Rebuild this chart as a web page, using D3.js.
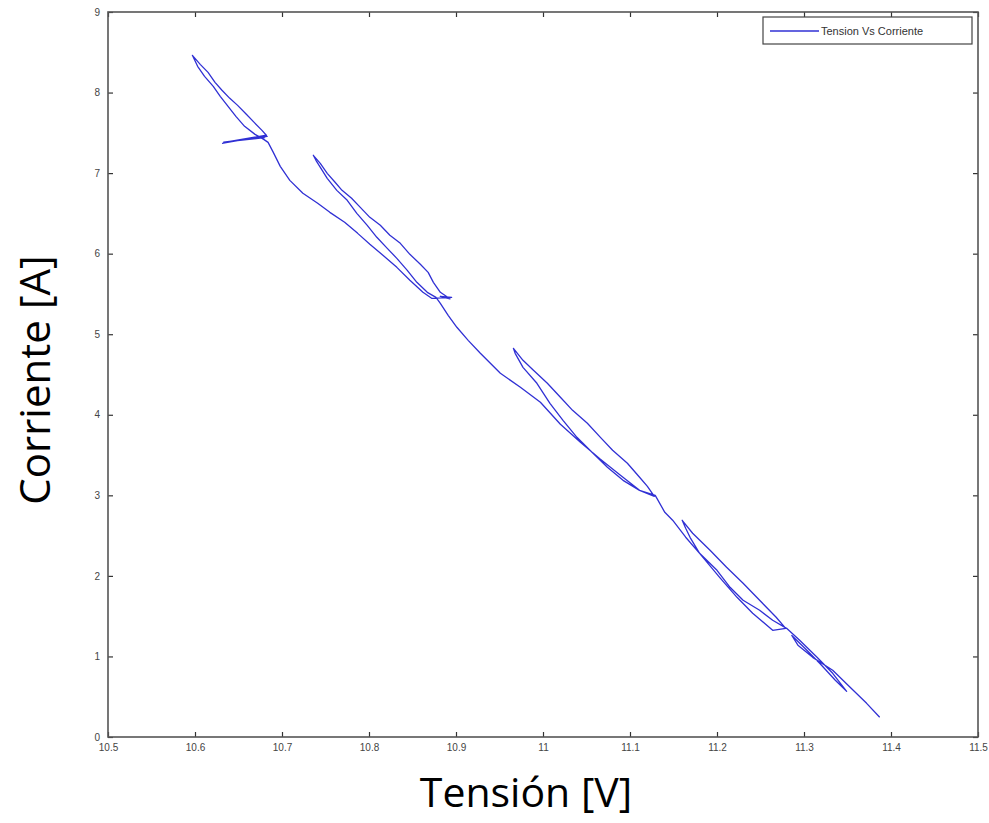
<!DOCTYPE html>
<html>
<head>
<meta charset="utf-8">
<script src="https://cdn.jsdelivr.net/npm/d3@7"></script>
<style>
  body { margin: 0; background: #fff; }
  svg { display: block; }
</style>
</head>
<body>
<div id="graph"></div>
<script>
// tension [V] y corriente [A], en orden de trazo
var tension = [
  10.631, 10.657, 10.683, 10.633, 10.680, 10.640, 10.682,
  10.677, 10.668, 10.659, 10.649, 10.640, 10.631, 10.623, 10.615, 10.606, 10.597,
  10.603, 10.611, 10.621, 10.629, 10.638, 10.647, 10.657, 10.669, 10.679,
  10.684, 10.690, 10.698, 10.709, 10.724, 10.741, 10.755, 10.772, 10.787, 10.801,
  10.816, 10.832, 10.847, 10.862, 10.872,
  10.895, 10.882, 10.893, 10.882,
  10.874, 10.868, 10.859, 10.847, 10.836, 10.824, 10.813, 10.801, 10.790, 10.780,
  10.769, 10.761, 10.752, 10.744, 10.736,
  10.739, 10.752, 10.763, 10.775, 10.786, 10.798, 10.809, 10.821, 10.832, 10.844,
  10.855, 10.867, 10.877,
  10.882, 10.891, 10.901, 10.914, 10.928, 10.951, 10.974, 10.997, 11.020, 11.043,
  11.066, 11.089, 11.111, 11.128,
  11.120, 11.111, 11.097, 11.080, 11.066, 11.051, 11.034, 11.020, 11.005, 10.989,
  10.977, 10.966,
  10.968, 10.977, 10.993, 11.008, 11.023, 11.039, 11.054, 11.074, 11.092, 11.111,
  11.129,
  11.140, 11.149, 11.164, 11.180, 11.203, 11.223, 11.241, 11.264, 11.279,
  11.268, 11.249, 11.230, 11.211, 11.192, 11.172, 11.160,
  11.164, 11.169, 11.180, 11.200, 11.215, 11.230, 11.249, 11.264, 11.280,
  11.295, 11.315, 11.333, 11.349,
  11.336, 11.318, 11.301, 11.286,
  11.293, 11.310, 11.333, 11.353, 11.372, 11.387
];
var corriente = [
  7.370, 7.419, 7.457, 7.385, 7.440, 7.395, 7.470,
  7.531, 7.630, 7.730, 7.841, 7.928, 8.028, 8.127, 8.251, 8.350, 8.462,
  8.326, 8.201, 8.077, 7.953, 7.829, 7.705, 7.581, 7.481, 7.419,
  7.382, 7.258, 7.084, 6.910, 6.749, 6.625, 6.513, 6.389, 6.252, 6.116,
  5.979, 5.830, 5.669, 5.520, 5.446,
  5.458, 5.470, 5.440, 5.520,
  5.644, 5.768, 5.868, 5.992, 6.128, 6.228, 6.352, 6.451, 6.575, 6.687,
  6.786, 6.886, 6.997, 7.121, 7.221,
  7.159, 6.935, 6.786, 6.662, 6.501, 6.352, 6.203, 6.066, 5.942, 5.793,
  5.644, 5.520, 5.458,
  5.384, 5.235, 5.086, 4.924, 4.763, 4.515, 4.341, 4.155, 3.882, 3.658,
  3.447, 3.249, 3.062, 2.988,
  3.112, 3.224, 3.398, 3.559, 3.720, 3.894, 4.055, 4.217, 4.391, 4.552,
  4.676, 4.825,
  4.763, 4.589, 4.391, 4.142, 3.931, 3.720, 3.559, 3.348, 3.186, 3.062,
  3.000,
  2.789, 2.691, 2.480, 2.280, 1.982, 1.734, 1.536, 1.324, 1.349,
  1.486, 1.697, 1.908, 2.107, 2.318, 2.529, 2.690,
  2.591, 2.479, 2.280, 2.069, 1.858, 1.697, 1.573, 1.449, 1.349,
  1.200, 0.989, 0.791, 0.567,
  0.704, 0.915, 1.101, 1.260,
  1.140, 0.989, 0.828, 0.617, 0.418, 0.245
];
var xTicks = [10.5, 10.6, 10.7, 10.8, 10.9, 11, 11.1, 11.2, 11.3, 11.4, 11.5];
var yTicks = [0, 1, 2, 3, 4, 5, 6, 7, 8, 9];
var leyenda = "Tension Vs Corriente";

var chartWidth = 989, chartHeight = 823;
var mLeft = 108, mRight = 978, mTop = 12, mBottom = 737;

var svg = d3.select("#graph").append("svg")
  .attr("width", chartWidth)
  .attr("height", chartHeight);

var xScale = d3.scaleLinear().domain([10.5, 11.5]).range([mLeft, mRight]);
var yScale = d3.scaleLinear().domain([0, 9]).range([mBottom, mTop]);

// ejes estilo matlab, ticks hacia adentro
var xAxis = d3.axisBottom(xScale).tickValues(xTicks).tickSizeInner(-5).tickSizeOuter(0)
  .tickFormat(d3.format("~g")).tickPadding(7);
var yAxis = d3.axisLeft(yScale).tickValues(yTicks).tickSizeInner(-5).tickSizeOuter(0)
  .tickPadding(8);
var xTop = d3.axisTop(xScale).tickValues(xTicks).tickSizeInner(-5).tickSizeOuter(0).tickFormat("");
var yRight = d3.axisRight(yScale).tickValues(yTicks).tickSizeInner(-5).tickSizeOuter(0).tickFormat("");

function estilo(g) {
  g.select(".domain").remove();
  g.selectAll(".tick line").attr("stroke", "#333").attr("stroke-width", 1.2);
  g.selectAll(".tick text").attr("fill", "#444")
    .style("font-family", "'Liberation Sans', Arial, sans-serif").style("font-size", "10px");
}

svg.append("g").attr("transform", "translate(0," + mBottom + ")").call(xAxis).call(estilo);
svg.append("g").attr("transform", "translate(" + mLeft + ",0)").call(yAxis).call(estilo);
svg.append("g").attr("transform", "translate(0," + mTop + ")").call(xTop).call(estilo);
svg.append("g").attr("transform", "translate(" + mRight + ",0)").call(yRight).call(estilo);

svg.append("rect")
  .attr("x", mLeft).attr("y", mTop)
  .attr("width", mRight - mLeft).attr("height", mBottom - mTop)
  .attr("fill", "none").attr("stroke", "#555").attr("stroke-width", 1.6);

// curva tension vs corriente
var linea = d3.line()
  .x(function (d, i) { return xScale(tension[i]); })
  .y(function (d, i) { return yScale(corriente[i]); });

svg.append("path")
  .datum(tension)
  .attr("d", linea)
  .attr("fill", "none")
  .attr("stroke", "#3030d4")
  .attr("stroke-width", 1.3)
  .attr("stroke-linejoin", "round");

// leyenda
var lg = svg.append("g").attr("transform", "translate(763,17)");
lg.append("rect").attr("width", 209).attr("height", 27)
  .attr("fill", "#fff").attr("stroke", "#444").attr("stroke-width", 1.2);
lg.append("line").attr("x1", 7).attr("x2", 56).attr("y1", 14).attr("y2", 14)
  .attr("stroke", "#3030d4").attr("stroke-width", 1.3);
lg.append("text").attr("x", 58).attr("y", 18).text(leyenda)
  .attr("fill", "#333")
  .style("font-family", "'Liberation Sans', Arial, sans-serif").style("font-size", "11px");

// titulos de ejes
svg.append("text")
  .attr("x", 526).attr("y", 807)
  .attr("text-anchor", "middle")
  .style("font-family", "'Open Sans', sans-serif").style("font-size", "41px")
  .text("Tensión [V]");

svg.append("text")
  .attr("transform", "translate(50,380) rotate(-90)")
  .attr("text-anchor", "middle")
  .style("font-family", "'Open Sans', sans-serif").style("font-size", "42px")
  .text("Corriente [A]");
</script>
</body>
</html>
